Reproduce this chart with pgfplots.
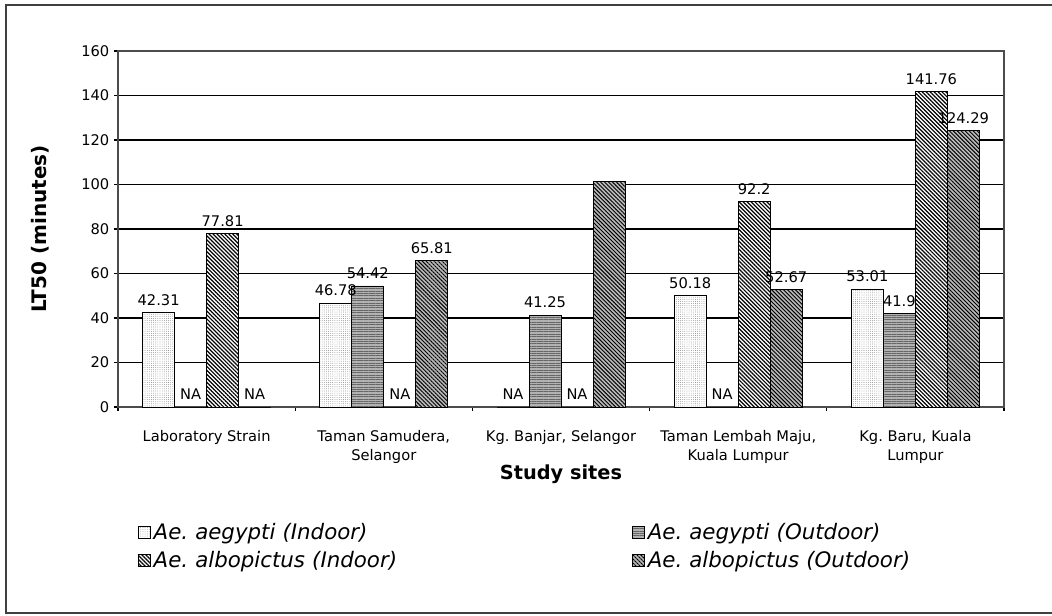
\documentclass[border=0pt]{standalone}
\usepackage{fontspec}
\setmainfont{DejaVu Sans}
\usepackage{pgfplots}
\pgfplotsset{compat=1.18}
\usetikzlibrary{patterns.meta}
\frenchspacing

\begin{document}
\begin{tikzpicture}
\useasboundingbox (-88.5pt,-156pt) rectangle (700.5pt,305.25pt);
\begin{axis}[
  at={(0pt,0pt)}, anchor=south west,
  scale only axis, width=664.5pt, height=267pt,
  ybar=0pt, bar width=24pt,
  xmin=-0.5, xmax=4.5, ymin=0, ymax=160,
  ytick={0,20,...,160},
  xtick={-0.5,0.5,1.5,2.5,3.5,4.5},
  xticklabels={,,,,,},
  xtick pos=lower, ytick pos=left,
  extra x ticks={0,1,2,3,4},
  extra x tick labels={Laboratory Strain,{Taman Samudera,\\Selangor},{Kg. Banjar, Selangor},{Taman Lembah Maju,\\Kuala Lumpur},{Kg. Baru, Kuala\\Lumpur}},
  extra x tick style={major tick length=0pt, xticklabel style={align=center, yshift=-14pt}},
  tick align=outside, major tick length=3pt,
  ymajorgrids, grid style={black, line width=0.8pt},
  axis line style={black!70, line width=0.8pt},
  tick style={black, line width=0.8pt},
  tick label style={font=\fontsize{11}{14}\selectfont},
  /pgf/number format/assume math mode=true,
  ylabel={LT50 (minutes)},
  ylabel style={at={(axis description cs:-0.088,0.5)}, anchor=center, font=\fontsize{15}{17}\selectfont\bfseries},
  xlabel={Study sites},
  xlabel style={at={(axis description cs:0.5,-0.19)}, anchor=center, font=\fontsize{14.5}{17}\selectfont\bfseries},
  nodes near coords, point meta=explicit symbolic,
  nodes near coords style={font=\fontsize{11}{13}\selectfont, inner sep=1pt, anchor=south, yshift=4pt},
  legend columns=2,
  legend style={at={(axis description cs:0.018,-0.31)}, anchor=north west, draw=none, fill=none,
    font=\fontsize{16}{19}\selectfont\itshape,
    nodes={text width=357pt, align=left, inner xsep=2pt}, row sep=3.5pt},
  legend image code/.code={\draw[#1] (0pt,-4.5pt) rectangle (9pt,4.5pt);},
]
\addplot[draw=black, line width=0.6pt, fill=white,
  postaction={pattern={Dots[distance=1.6pt,radius=0.28pt]}, pattern color=black!60}]
  coordinates {(0,42.31)[42.31] (1,46.78)[46.78] (2,0)[NA] (3,50.18)[50.18] (4,53.01)[53.01]};
\addlegendentry{Ae. aegypti (Indoor)}
\addplot[draw=black, line width=0.6pt, fill=gray!60,
  postaction={pattern={Lines[angle=0,distance=1.8pt,line width=0.5pt]}, pattern color=black!60}]
  coordinates {(0,0)[NA] (1,54.42)[54.42] (2,41.25)[41.25] (3,0)[NA] (4,41.9)[41.9]};
\addlegendentry{Ae. aegypti (Outdoor)}
\addplot[draw=black, line width=0.6pt, fill=white,
  postaction={pattern={Lines[angle=-45,distance=2.1pt,line width=0.9pt]}, pattern color=black}]
  coordinates {(0,77.81)[77.81] (1,0)[NA] (2,0)[NA] (3,92.2)[92.2] (4,141.76)[141.76]};
\addlegendentry{Ae. albopictus (Indoor)}
\addplot[draw=black, line width=0.6pt, fill=gray!55,
  postaction={pattern={Lines[angle=-45,distance=2.1pt,line width=0.7pt]}, pattern color=black}]
  coordinates {(0,0)[NA] (1,65.81)[65.81] (2,101.5)[] (3,52.67)[52.67] (4,124.29)[124.29]};
\addlegendentry{Ae. albopictus (Outdoor)}
\end{axis}
\draw[black!75, line width=1.5pt] (700.5pt,301.5pt) -- (-84pt,301.5pt) -- (-84pt,-154.5pt) -- (700.5pt,-154.5pt);
\end{tikzpicture}
\end{document}
